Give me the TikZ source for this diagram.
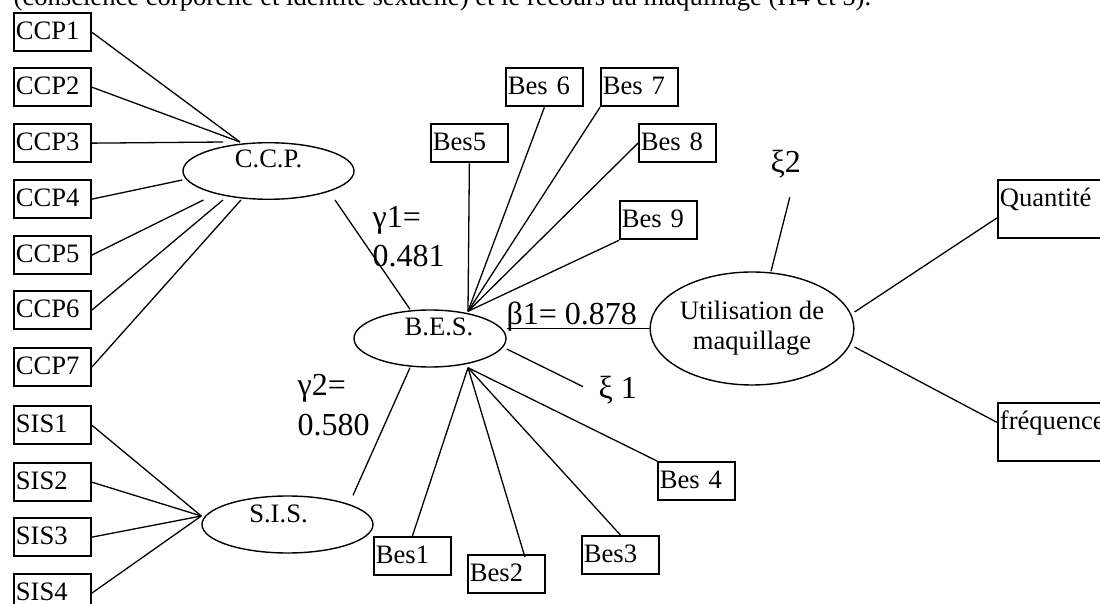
\documentclass[tikz,border=0pt]{standalone}
\usepackage{fontspec}
\setmainfont{Liberation Serif}
\usetikzlibrary{shapes.geometric}
\begin{document}
\begin{tikzpicture}[x=0.5pt,y=-0.5pt,line width=0.65pt,
  ind/.style={draw, rectangle, line width=0.9pt, anchor=north west,
    inner xsep=1pt, inner ysep=0pt, text width=36.5pt, align=left,
    text height=13.5pt, text depth=5.75pt,
    font=\fontsize{13.3}{15}\selectfont},
  tallind/.style={ind, text width=63pt, text depth=15.5pt},
  lat/.style={draw, ellipse, inner sep=0pt, line width=0.7pt,
    font=\fontsize{13.3}{15}\selectfont},
  coef/.style={anchor=base west, inner sep=0pt,
    font=\fontsize{16}{19.5}\selectfont}
]
\useasboundingbox (0,0) rectangle (1100,604);
\clip (0,0) rectangle (1100,604);

% running text above the model
\node[anchor=base west, inner sep=0pt, font=\fontsize{13.3}{15}\selectfont] (caption) at (13,6)
  {(conscience corporelle et identité sexuelle) et le recours au maquillage (H4 et 5).};

% latent variables
\node[lat, minimum width=85.5pt, minimum height=28pt, text height=8.5pt, text depth=11.5pt]
  (CCP) at (268.5,171) {C.C.P.};
\node[lat, minimum width=76pt, minimum height=28.5pt, text height=8.5pt, text depth=11pt]
  (BES) at (430,338.5) {\hspace*{9pt}B.E.S.};
\node[lat, minimum width=85.5pt, minimum height=28.5pt, text height=8.5pt, text depth=10pt]
  (SIS) at (287.5,524.5) {S.I.S.\hspace*{9pt}};
\node[lat, minimum width=95pt, minimum height=56.5pt, align=center]
  (Util) at (752,328.5) {Utilisation de\\maquillage};

% indicators of C.C.P.
\node[ind] (CCP1) at (13,12)  {CCP1};
\node[ind] (CCP2) at (13,67)  {CCP2};
\node[ind] (CCP3) at (13,123) {CCP3};
\node[ind] (CCP4) at (13,179) {CCP4};
\node[ind] (CCP5) at (13,235) {CCP5};
\node[ind] (CCP6) at (13,290) {CCP6};
\node[ind] (CCP7) at (13,347) {CCP7};

% indicators of S.I.S.
\node[ind] (SIS1) at (13,405) {SIS1};
\node[ind] (SIS2) at (13,462) {SIS2};
\node[ind] (SIS3) at (13,517) {SIS3};
\node[ind] (SIS4) at (13,573) {SIS4};

% indicators of B.E.S.
\node[ind] (Bes5) at (430,123) {Bes5};
\node[ind] (Bes6) at (505,67)  {Bes 6};
\node[ind] (Bes7) at (600,67)  {Bes 7};
\node[ind] (Bes8) at (638,123) {Bes 8};
\node[ind] (Bes9) at (619,200) {Bes 9};
\node[ind] (Bes1) at (373,536) {Bes1};
\node[ind] (Bes2) at (467,554) {Bes2};
\node[ind] (Bes3) at (581,535) {Bes3};
\node[ind] (Bes4) at (657,461) {Bes 4};

% indicators of make-up use
\node[tallind] (Quant) at (997,179) {Quantité};
\node[tallind] (Freq)  at (997,402) {fréquence};

% path coefficients and residuals
\node[coef] (g1a) at (372,228) {γ1=};
\node[coef] (g1b) at (372,267) {0.481};
\node[coef] (g2a) at (297,396) {γ2=};
\node[coef] (g2b) at (297,436) {0.580};
\node[coef] (b1)  at (506,325) {β1= 0.878};
\node[coef] (xi1) at (598,399) {ξ 1};
\node[coef] (xi2) at (770,173) {ξ2};

% measurement links of C.C.P.
\draw (CCP1.east) -- ([xshift=-14.25pt]CCP.north);
\draw (CCP2.east) -- ([xshift=-14.25pt]CCP.north);
\draw (CCP3.east) -- ([xshift=-22.75pt]CCP.north);
\draw (CCP4.east) -- ([yshift=-4.5pt]CCP.west);
\draw (CCP5.east) -- ([xshift=-32.5pt]CCP.south);
\draw (CCP6.east) -- ([xshift=-22.75pt]CCP.south);
\draw (CCP7.east) -- ([xshift=-13.75pt]CCP.south);

% measurement links of S.I.S.
\draw (SIS1.east) -- ([yshift=4.25pt]SIS.west);
\draw (SIS2.east) -- ([yshift=4.25pt]SIS.west);
\draw (SIS3.east) -- ([yshift=4.25pt]SIS.west);
\draw (SIS4.east) -- ([yshift=4.25pt]SIS.west);

% measurement links of B.E.S.
\coordinate (hubN) at ([xshift=19pt,yshift=-1pt]BES.north);
\coordinate (hubS) at ([xshift=19pt]BES.south);
\draw (Bes5.south) -- (hubN);
\draw (Bes6.south) -- (hubN);
\draw (Bes7.south west) -- (hubN);
\draw (Bes8.west) -- (hubN);
\draw (Bes9.south west) -- (hubN);
\draw (Bes1.north) -- (hubS);
\draw ([xshift=9.25pt,yshift=-1.5pt]Bes2.north) -- (hubS);
\draw (Bes3.north) -- (hubS);
\draw (Bes4.north west) -- (hubS);

% structural links
\draw ([xshift=33.25pt]CCP.south) -- ([xshift=-10pt]BES.north);
\draw ([xshift=-10pt]BES.south) -- ([xshift=32.75pt]SIS.north);
\draw (BES.east |- Util.west) -- (Util.west);
\draw ([yshift=-5.25pt]BES.east) -- ([shift={(-7.5pt,2pt)}]xi1.west);
\draw ([xshift=9.5pt]Util.north) -- ([shift={(2pt,-9pt)}]xi2.south);
\draw ([yshift=8.25pt]Util.east) -- ([yshift=-4.5pt]Quant.west);
\draw ([yshift=-9.25pt]Util.east) -- ([yshift=4.75pt]Freq.west);
\end{tikzpicture}
\end{document}
